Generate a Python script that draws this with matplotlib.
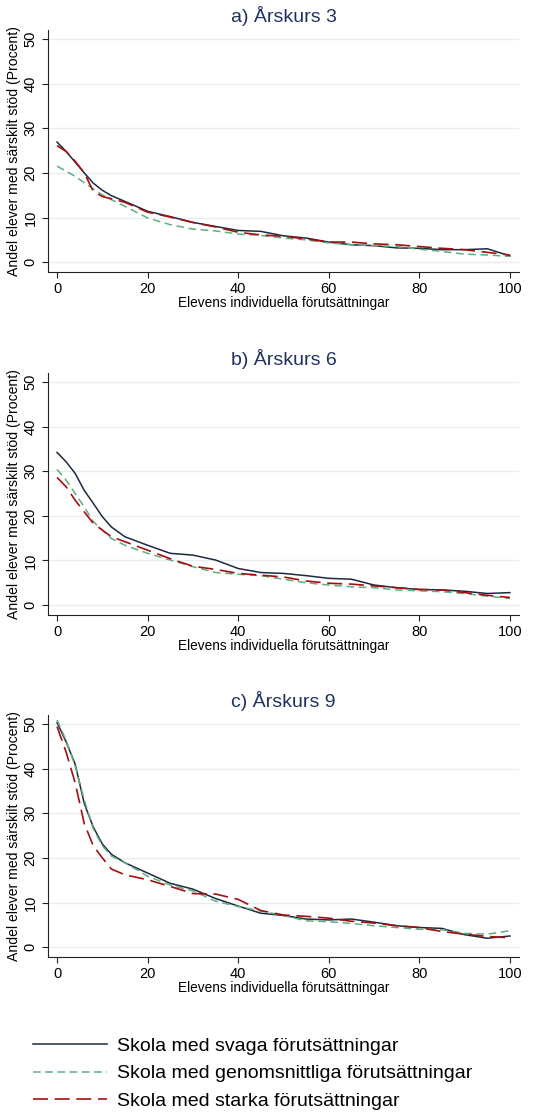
import matplotlib
matplotlib.use("Agg")
import matplotlib.pyplot as plt

plt.rcParams['font.family'] = ['Liberation Sans', 'DejaVu Sans']

# data (x = elevens individuella förutsättningar)
titles = ['a) Årskurs 3', 'b) Årskurs 6', 'c) Årskurs 9']
series_labels = ['Skola med svaga förutsättningar',
                 'Skola med genomsnittliga förutsättningar',
                 'Skola med starka förutsättningar']
x_vals = [0, 2, 4, 6, 8, 10, 12, 15, 20, 25, 30, 35, 40, 45, 50, 55, 60, 65, 70, 75, 80, 85, 90, 95, 100]

# Årskurs 3
ak3_svaga = [26.9, 24.8, 22.4, 20.0, 17.7, 16.1, 14.9, 13.6, 11.4, 10.2, 8.9, 8.0, 7.1, 6.9, 5.9, 5.4, 4.5, 3.9, 3.7, 3.2, 3.1, 2.8, 2.8, 3.0, 1.4]
ak3_medel = [21.5, 20.4, 19.2, 17.8, 16.4, 15.1, 14.0, 12.5, 9.9, 8.4, 7.4, 7.0, 6.3, 6.0, 5.4, 5.0, 4.3, 3.9, 3.7, 3.5, 2.9, 2.4, 1.8, 1.6, 1.3]
ak3_starka = [26.1, 24.8, 22.6, 20.0, 15.9, 14.7, 14.2, 13.4, 11.2, 10.1, 8.9, 7.9, 6.7, 6.1, 5.8, 5.2, 4.5, 4.5, 4.1, 3.9, 3.5, 3.1, 2.8, 2.2, 1.6]

# Årskurs 6
ak6_svaga = [34.2, 32.1, 29.5, 25.7, 22.8, 19.8, 17.5, 15.3, 13.4, 11.6, 11.2, 10.1, 8.2, 7.3, 7.1, 6.6, 6.0, 5.8, 4.5, 3.9, 3.5, 3.4, 3.1, 2.6, 2.8]
ak6_medel = [30.4, 28.0, 25.0, 22.0, 18.7, 16.8, 14.9, 13.4, 11.6, 10.1, 8.6, 7.3, 6.9, 6.6, 5.8, 5.0, 4.5, 4.1, 3.9, 3.4, 3.2, 3.0, 2.6, 2.0, 1.5]
ak6_starka = [28.6, 26.5, 23.5, 20.9, 18.3, 16.8, 15.3, 14.2, 12.3, 10.4, 8.7, 8.0, 7.1, 6.7, 6.3, 5.4, 4.9, 4.7, 4.3, 3.9, 3.5, 3.4, 2.8, 2.2, 1.7]

# Årskurs 9
ak9_svaga = [50.3, 46.0, 41.0, 32.2, 26.9, 23.1, 20.8, 18.9, 16.6, 14.3, 13.0, 10.9, 9.2, 7.6, 7.1, 6.3, 6.1, 6.3, 5.6, 4.8, 4.4, 4.2, 2.8, 2.0, 2.5]
ak9_medel = [50.9, 46.3, 40.6, 33.0, 26.5, 22.7, 20.4, 18.9, 15.9, 13.9, 12.6, 10.3, 9.1, 8.1, 7.1, 5.9, 5.7, 5.3, 4.8, 4.4, 4.0, 3.9, 3.1, 2.9, 3.7]
ak9_starka = [49.4, 43.7, 36.8, 27.7, 22.7, 20.0, 17.5, 16.2, 15.1, 13.6, 12.0, 11.9, 10.7, 8.2, 7.2, 6.9, 6.5, 5.8, 5.4, 4.8, 4.4, 3.5, 2.9, 2.4, 2.1]

panels = [(ak3_svaga, ak3_medel, ak3_starka),
          (ak6_svaga, ak6_medel, ak6_starka),
          (ak9_svaga, ak9_medel, ak9_starka)]

colors = ['#1c2a3f', '#5fae7e', '#a30f0f']
dashes = [None, (5, 3), (9, 4)]
widths = [1.1, 1.1, 1.2]

fig = plt.figure(figsize=(5.53, 11.12), dpi=100)

axes_boxes = [(0.0868, 0.7554, 0.8517, 0.2176),
              (0.0868, 0.4470, 0.8517, 0.2176),
              (0.0868, 0.1394, 0.8517, 0.2176)]

lines = []
for box, title, data in zip(axes_boxes, titles, panels):
    ax = fig.add_axes(box)
    for y, c, d, w in zip(data, colors, dashes, widths):
        ln, = ax.plot(x_vals, y, color=c, lw=w)
        if d is not None:
            ln.set_dashes(d)
        lines.append(ln)
    ax.set_xlim(-2, 102)
    ax.set_ylim(-2.2, 52)
    ax.set_xticks([0, 20, 40, 60, 80, 100])
    ax.set_yticks([0, 10, 20, 30, 40, 50])
    ax.grid(axis='y', color='#e6eef0', lw=1.0)
    ax.set_axisbelow(True)
    ax.spines['top'].set_visible(False)
    ax.spines['right'].set_visible(False)
    ax.spines['left'].set_color('#222222')
    ax.spines['bottom'].set_color('#222222')
    ax.tick_params(labelsize=10.5, length=4, color='#222222')
    for lab in ax.get_yticklabels():
        lab.set_rotation(90)
        lab.set_va('center')
    ax.set_title(title, fontsize=14, color='#1f3260', pad=6)
    ax.set_xlabel('Elevens individuella förutsättningar', fontsize=9.8, labelpad=0)
    ax.set_ylabel('Andel elever med särskilt stöd (Procent)', fontsize=10.1, labelpad=2)

fig.legend(lines[:3], series_labels, loc='upper left', bbox_to_anchor=(0.06, 0.067),
           frameon=False, fontsize=14, handlelength=3.8, handletextpad=0.5,
           labelspacing=0.5, borderaxespad=0, borderpad=0)

fig.savefig('out.png', dpi=100, facecolor='white')
